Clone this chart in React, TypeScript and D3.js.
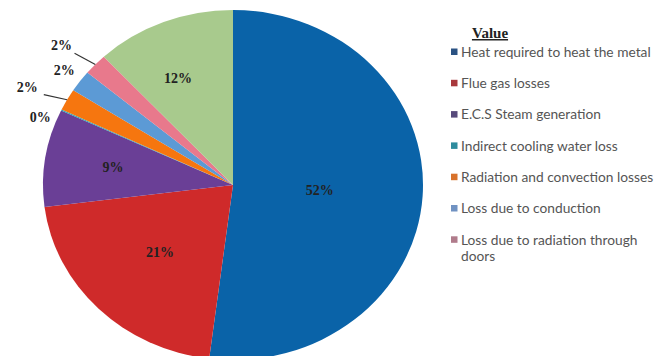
import React from "react";
import * as d3 from "d3";

const categories = [
  "Heat required to heat the metal",
  "Flue gas losses",
  "E.C.S Steam generation",
  "Indirect cooling water loss",
  "Radiation and convection losses",
  "Loss due to conduction",
  "Loss due to radiation through doors",
  "Other",
];
const values = [52, 21, 9, 0.1, 2, 2, 2, 11.9];
const valueLabels = ["52%", "21%", "9%", "0%", "2%", "2%", "2%", "12%"];
const legendLines = [
  ["Heat required to heat the metal"],
  ["Flue gas losses"],
  ["E.C.S Steam generation"],
  ["Indirect cooling water loss"],
  ["Radiation and convection losses"],
  ["Loss due to conduction"],
  ["Loss due to radiation through", "doors"],
];

// styling
const sliceColors = ["#0a63a8", "#cf2a2a", "#6a3f96", "#2aa7b8", "#f6760f", "#5c9ad5", "#e8798c", "#a8ca8d"];
const legendColors = ["#2a5283", "#a8383c", "#574a7b", "#2e8c9e", "#d8722b", "#7092c2", "#b07b8b"];
const labelRadius = [80, 95, 112, 190, 213, 193, 211, 118];
const labelAngleShift = [0, 0, 0, -4.5, -2, 0, -2, -4];
const leaderFor = [false, false, false, false, true, false, true, false];

const W = 657, H = 356;
const cx = 233, cy = 185, R = 175, sx = 190 / 175;

export default function App() {
  const pie = d3.pie<number>().sort(null).value((d) => d).startAngle(0).endAngle(2 * Math.PI);
  const arcs = pie(values);
  const arc = d3.arc<d3.PieArcDatum<number>>().innerRadius(0).outerRadius(R);
  const toXY = (ang: number, r: number) => [cx + Math.sin(ang) * r * sx, cy - Math.cos(ang) * r];

  return (
    <svg width={W} height={H} style={{ position: "absolute", left: 0, top: 0, background: "#fff" }}
      fontFamily="'Liberation Serif', serif">
      <g transform={`translate(${cx},${cy}) scale(${sx},1)`}>
        {arcs.map((a, i) => (
          <path key={i} d={arc(a) || ""} fill={sliceColors[i]} />
        ))}
      </g>
      {arcs.map((a, i) => {
        const mid = (a.startAngle + a.endAngle) / 2;
        const la = mid + (labelAngleShift[i] * Math.PI) / 180;
        const [lx, ly] = toXY(la, labelRadius[i]);
        const [e1x, e1y] = toXY(la, 200);
        const [e2x, e2y] = toXY(mid, R);
        return (
          <g key={i}>
            {leaderFor[i] && (
              <line x1={e1x + 4} y1={e1y + 1} x2={e2x} y2={e2y} stroke="#333" strokeWidth={1.2} />
            )}
            <text x={lx} y={ly} textAnchor="middle" dominantBaseline="central" fontWeight="bold"
              fontSize={14} fill="#222">
              {valueLabels[i]}
            </text>
          </g>
        );
      })}
      <text x={490} y={38} textAnchor="middle" fontWeight="bold" fontSize={15} fill="#222"
        textDecoration="underline">Value</text>
      {legendLines.map((lines, i) => {
        const y = 52 + i * 31.3;
        return (
          <g key={i}>
            <rect x={451} y={y - 3.5} width={6.5} height={6.5} fill={legendColors[i]} />
            <g transform={`translate(461,0) scale(1.1,1)`}>
              {lines.map((t, j) => (
                <text key={j} x={0} y={y + j * 16} dominantBaseline="central"
                  fontFamily="Lato, 'Open Sans', sans-serif" fontSize={12.5} fill="#555">{t}</text>
              ))}
            </g>
          </g>
        );
      })}
    </svg>
  );
}
